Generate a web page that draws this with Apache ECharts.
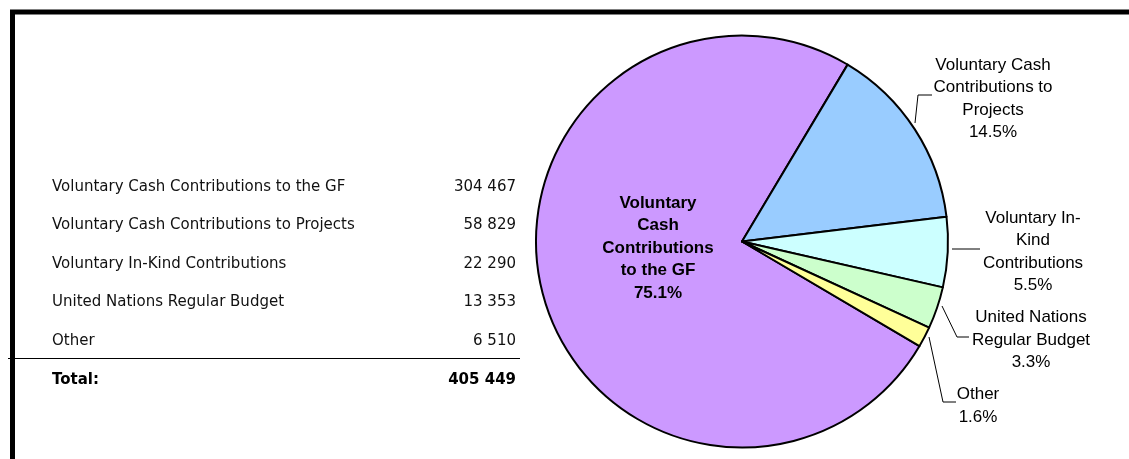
<!DOCTYPE html>
<html>
<head>
<meta charset="utf-8">
<script src="https://cdn.jsdelivr.net/npm/echarts@6/dist/echarts.min.js"></script>
<style>
  html, body { margin: 0; padding: 0; background: #fff; }
  #chart { width: 1129px; height: 459px; }
</style>
</head>
<body>
<div id="chart"></div>
<script>
const tableNames = [
  'Voluntary Cash Contributions to the GF',
  'Voluntary Cash Contributions to Projects',
  'Voluntary In-Kind Contributions',
  'United Nations Regular Budget',
  'Other'
]
const pieNames = [
  'Voluntary\nCash\nContributions\nto the GF',
  'Voluntary Cash\nContributions to\nProjects',
  'Voluntary In-\nKind\nContributions',
  'United Nations\nRegular Budget',
  'Other'
]
const amounts = [304467, 58829, 22290, 13353, 6510]
const totalLabel = 'Total:'
const colors = ['#cc99ff', '#99ccff', '#ccffff', '#ccffcc', '#ffff99']

// label placement (centre of the text block) and leader lines
const labelPos = [
  { x: 658, y: 248 },
  { x: 993, y: 99, line: [[915, 123], [918, 95], [932, 95]] },
  { x: 1033, y: 252, line: [[952, 249], [966, 249], [980, 249]] },
  { x: 1031, y: 340, line: [[942, 306], [957, 337], [969, 337]] },
  { x: 978, y: 406, line: [[929, 337], [943, 402], [956, 402]] }
]

function fmt(n) {
  return String(n).replace(/\B(?=(\d{3})+(?!\d))/g, ' ')
}

const total = amounts.reduce((a, b) => a + b, 0)
const tableFont = 'DejaVu Sans'
const rowY = [187, 225.5, 264, 302.5, 341]

const graphic = [
  {
    type: 'polyline',
    shape: { points: [[12.5, 459], [12.5, 12], [1129, 12]] },
    style: { stroke: '#000', lineWidth: 5, fill: null }
  },
  {
    type: 'line',
    shape: { x1: 8, y1: 358.5, x2: 520, y2: 358.5 },
    style: { stroke: '#000', lineWidth: 1 }
  }
]
tableNames.forEach((name, i) => {
  graphic.push({
    type: 'text', x: 52, y: rowY[i],
    style: { text: name, fontFamily: tableFont, fontSize: 15, fill: '#111', textVerticalAlign: 'middle' }
  })
  graphic.push({
    type: 'text', x: 516, y: rowY[i],
    style: { text: fmt(amounts[i]), fontFamily: tableFont, fontSize: 15, fill: '#111', textAlign: 'right', textVerticalAlign: 'middle' }
  })
})
graphic.push({
  type: 'text', x: 52, y: 380,
  style: { text: totalLabel, fontFamily: tableFont, fontSize: 15, fontWeight: 'bold', fill: '#000', textVerticalAlign: 'middle' }
})
graphic.push({
  type: 'text', x: 516, y: 380,
  style: { text: fmt(total), fontFamily: tableFont, fontSize: 15, fontWeight: 'bold', fill: '#000', textAlign: 'right', textVerticalAlign: 'middle' }
})

const chart = echarts.init(document.getElementById('chart'))
chart.setOption({
  animation: false,
  graphic: graphic,
  series: [{
    type: 'pie',
    center: [742, 241.5],
    radius: 206,
    startAngle: 329.5,
    clockwise: true,
    avoidLabelOverlap: false,
    itemStyle: { borderColor: '#000', borderWidth: 2 },
    label: {
      position: 'outside',
      fontFamily: 'Liberation Sans',
      fontSize: 17,
      lineHeight: 22.5,
      color: '#000',
      align: 'center',
      formatter: p => p.name + '\n' + p.percent.toFixed(1) + '%'
    },
    labelLine: { show: true, lineStyle: { color: '#000', width: 1 } },
    labelLayout: p => {
      const pos = labelPos[p.dataIndex]
      const out = { x: pos.x, y: pos.y, align: 'center', verticalAlign: 'middle' }
      if (pos.line) out.labelLinePoints = pos.line
      return out
    },
    data: amounts.map((v, i) => ({
      value: v,
      name: pieNames[i],
      itemStyle: { color: colors[i] },
      label: i === 0 ? { fontWeight: 'bold' } : {},
      labelLine: i === 0 ? { show: false } : {}
    }))
  }]
})
</script>
</body>
</html>
